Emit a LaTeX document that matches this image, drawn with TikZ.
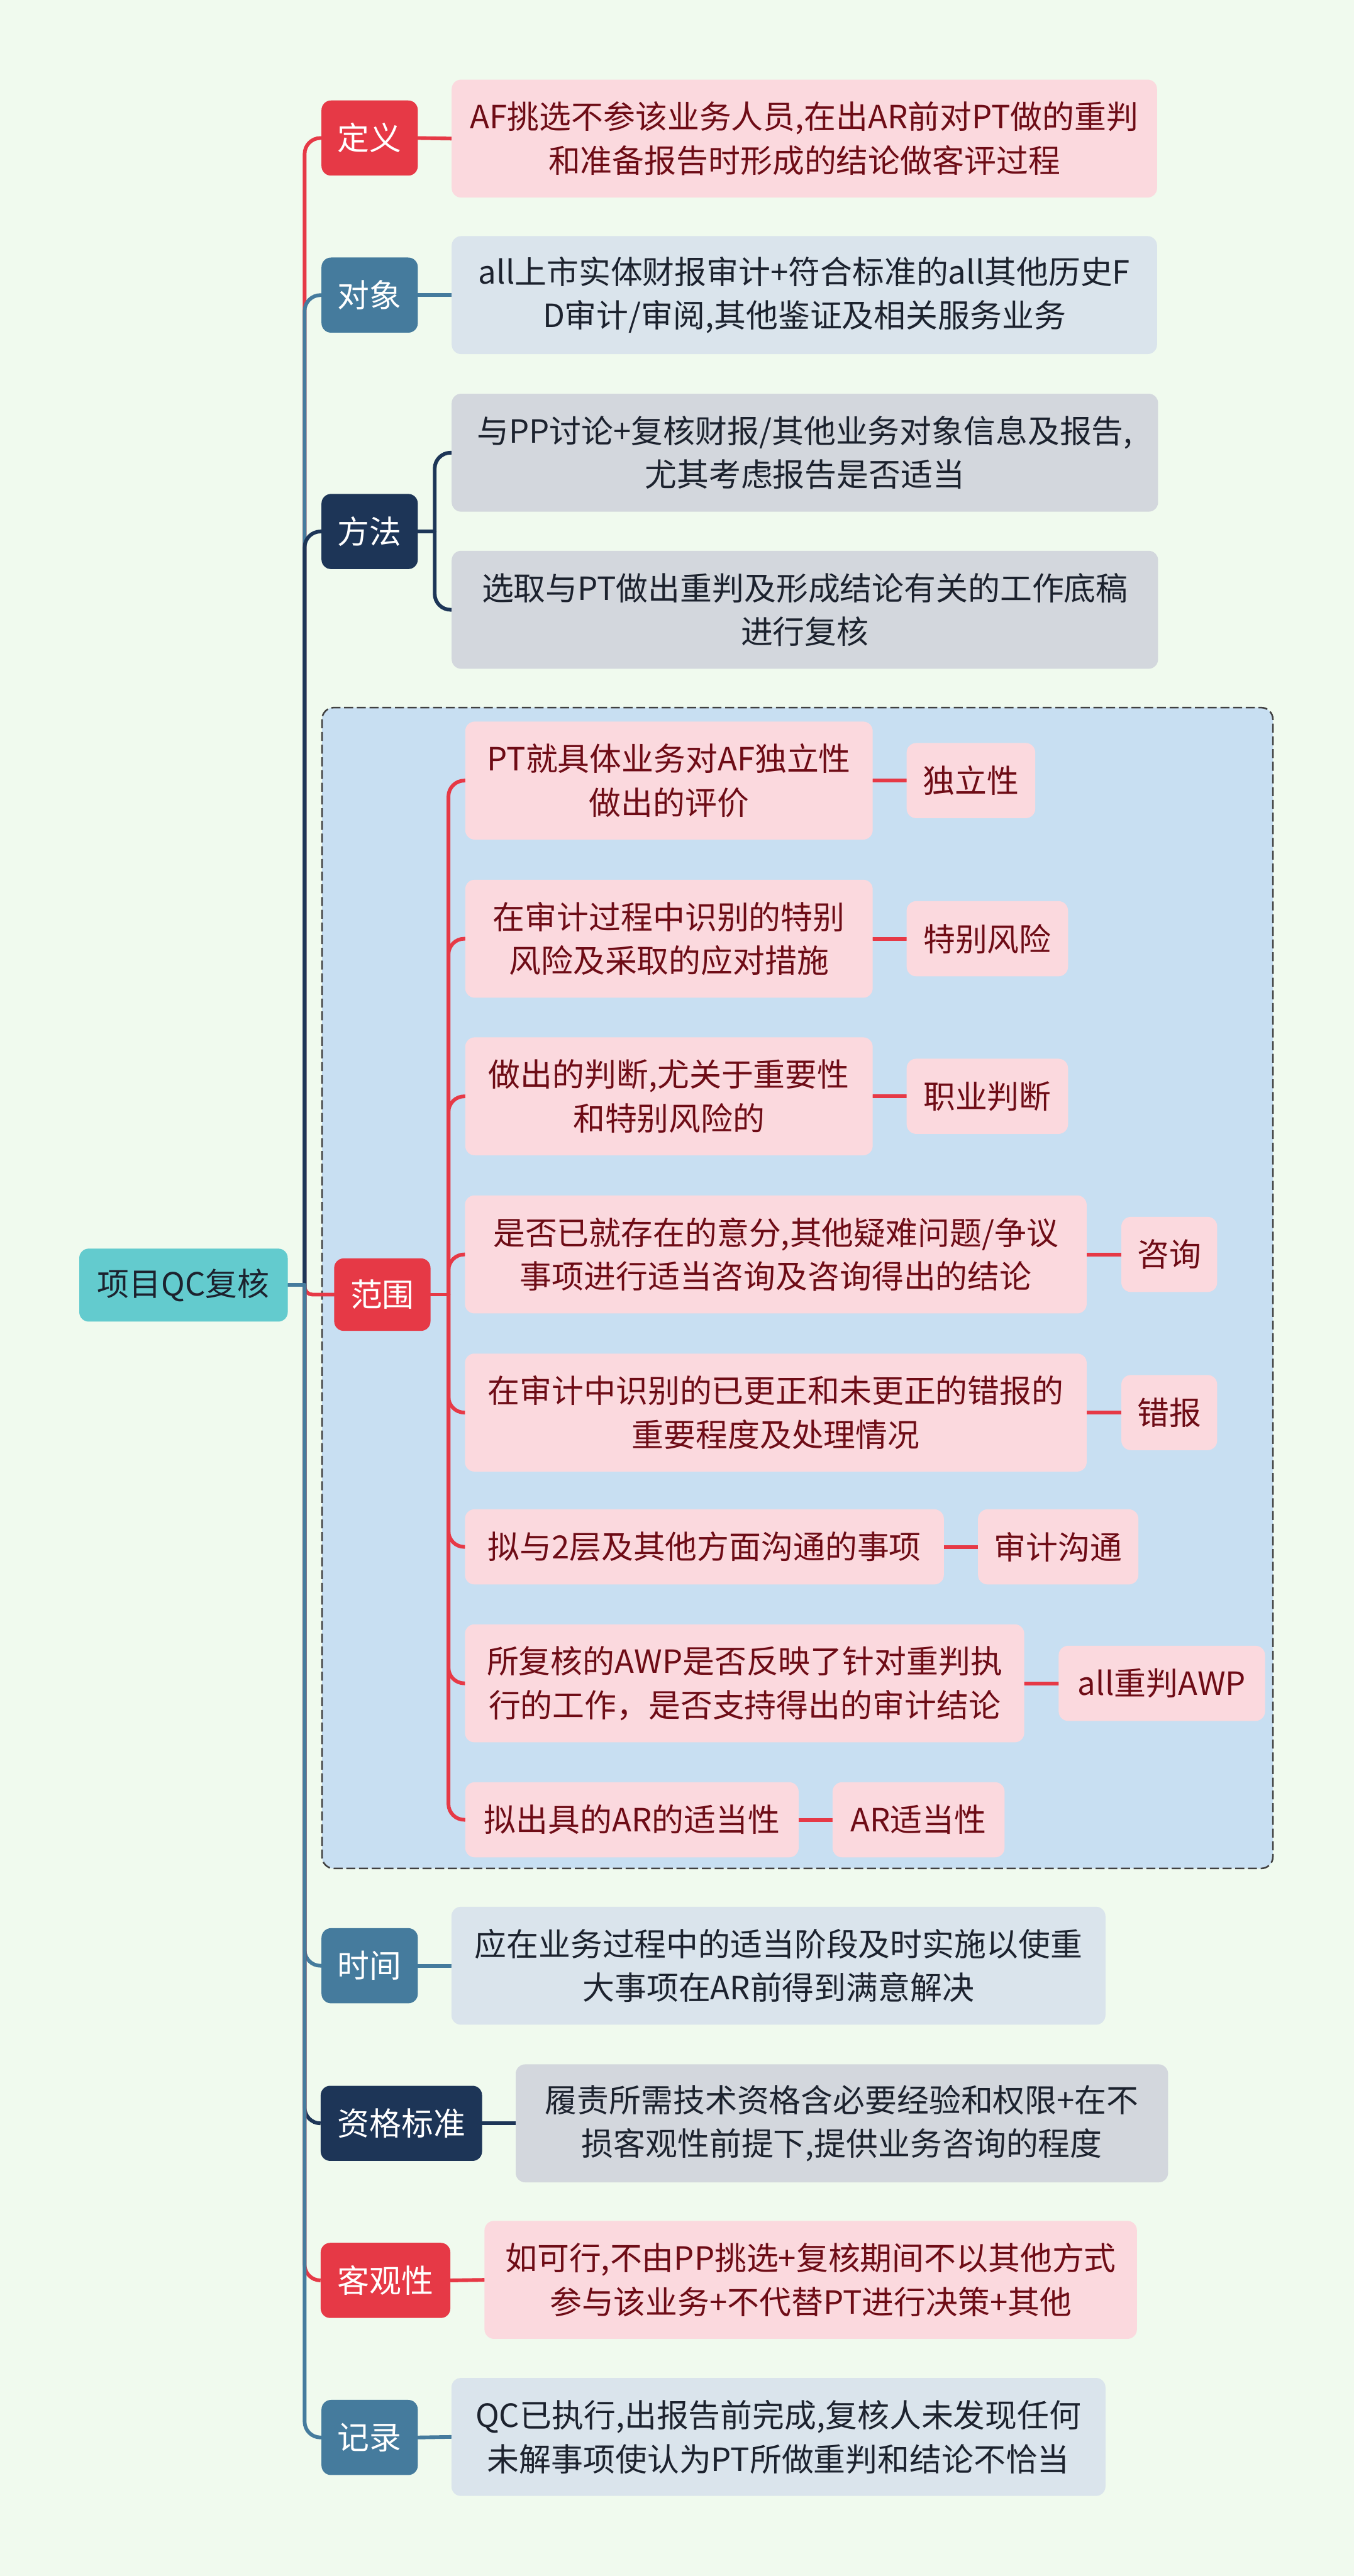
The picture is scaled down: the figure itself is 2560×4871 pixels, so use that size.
\documentclass[tikz,border=0pt]{standalone}
\usepackage{fontspec}
\newfontfamily\cjk{Noto Sans CJK SC}
\usepackage{xcolor}
\definecolor{qcbg}{RGB}{240,250,238}
\definecolor{qcred}{RGB}{230,57,70}
\definecolor{qcsteel}{RGB}{69,123,157}
\definecolor{qcnavy}{RGB}{29,53,87}
\definecolor{qcteal}{RGB}{99,203,206}
\definecolor{qcpink}{RGB}{251,217,222}
\definecolor{qcmist}{RGB}{218,228,236}
\definecolor{qcgray}{RGB}{211,215,221}
\definecolor{qcpanel}{RGB}{200,223,242}
\definecolor{qcwine}{RGB}{110,12,22}
\definecolor{qcink}{RGB}{28,34,46}
\usepackage{tikz}
\usetikzlibrary{positioning,backgrounds}

\begin{document}
\begin{tikzpicture}[x=0.01cm, y=-0.01cm,
    topicbox/.style={rectangle, rounded corners=0.18cm, inner sep=0pt,
                     minimum width=1.82cm, minimum height=1.42cm, align=center,
                     text=white, font=\cjk\fontsize{17.2pt}{23pt}\selectfont},
    leafbox/.style={rectangle, rounded corners=0.18cm, inner sep=0pt,
                    minimum height=2.23cm, align=center,
                    font=\cjk\fontsize{17.2pt}{23.5pt}\selectfont},
    tagbox/.style={rectangle, rounded corners=0.18cm, inner sep=0pt,
                   minimum height=1.42cm, align=center, fill=qcpink, text=qcwine,
                   font=\cjk\fontsize{17.2pt}{23pt}\selectfont},
    link/.style={line width=0.07cm, rounded corners=0.3cm, line cap=round}
  ]
    % Root
    \node[topicbox, fill=qcteal, text=qcink, minimum width=3.94cm, minimum height=1.38cm]
      (root) at (347,2430) {项目QC复核};

    % Main topics
    \node[topicbox, fill=qcred]   (dingyi)   at (699,261)  {定义};
    \node[topicbox, fill=qcsteel] (duixiang) at (699,558)  {对象};
    \node[topicbox, fill=qcnavy]  (fangfa)   at (699,1005) {方法};
    \node[topicbox, fill=qcred, minimum height=1.37cm] (fanwei) at (723,2448) {范围};
    \node[topicbox, fill=qcsteel] (shijian)  at (699,3717) {时间};
    \node[topicbox, fill=qcnavy, minimum width=3.05cm]  (zige)   at (759,4015) {资格标准};
    \node[topicbox, fill=qcred, minimum width=2.45cm]   (keguan) at (729,4312) {客观性};
    \node[topicbox, fill=qcsteel] (jilu)     at (699,4609) {记录};

    % Details of the plain topics
    \node[leafbox, fill=qcpink, text=qcwine, minimum width=13.33cm] (dingyiT) at (1521,262)
      {AF挑选不参该业务人员,在出AR前对PT做的重判\\和准备报告时形成的结论做客评过程};
    \node[leafbox, fill=qcmist, text=qcink, minimum width=13.33cm] (duixiangT) at (1521,558)
      {all上市实体财报审计+符合标准的all其他历史F\\D审计/审阅,其他鉴证及相关服务业务};
    \node[leafbox, fill=qcgray, text=qcink, minimum width=13.35cm] (fangfaA) at (1522,856)
      {与PP讨论+复核财报/其他业务对象信息及报告,\\尤其考虑报告是否适当};
    \node[leafbox, fill=qcgray, text=qcink, minimum width=13.35cm] (fangfaB) at (1522,1153)
      {选取与PT做出重判及形成结论有关的工作底稿\\进行复核};
    \node[leafbox, fill=qcmist, text=qcink, minimum width=12.36cm] (shijianT) at (1472,3717)
      {应在业务过程中的适当阶段及时实施以使重\\大事项在AR前得到满意解决};
    \node[leafbox, fill=qcgray, text=qcink, minimum width=12.33cm] (zigeT) at (1592,4015)
      {履责所需技术资格含必要经验和权限+在不\\损客观性前提下,提供业务咨询的程度};
    \node[leafbox, fill=qcpink, text=qcwine, minimum width=12.33cm] (keguanT) at (1533,4311)
      {如可行,不由PP挑选+复核期间不以其他方式\\参与该业务+不代替PT进行决策+其他};
    \node[leafbox, fill=qcmist, text=qcink, minimum width=12.36cm] (jiluT) at (1472,4608)
      {QC已执行,出报告前完成,复核人未发现任何\\未解事项使认为PT所做重判和结论不恰当};

    % Scope items
    \node[leafbox, fill=qcpink, text=qcwine, minimum width=7.7cm] (fw1) at (1265,1476)
      {PT就具体业务对AF独立性\\做出的评价};
    \node[leafbox, fill=qcpink, text=qcwine, minimum width=7.7cm] (fw2) at (1265,1775)
      {在审计过程中识别的特别\\风险及采取的应对措施};
    \node[leafbox, fill=qcpink, text=qcwine, minimum width=7.7cm] (fw3) at (1265,2073)
      {做出的判断,尤关于重要性\\和特别风险的};
    \node[leafbox, fill=qcpink, text=qcwine, minimum width=11.75cm] (fw4) at (1467,2372)
      {是否已就存在的意分,其他疑难问题/争议\\事项进行适当咨询及咨询得出的结论};
    \node[leafbox, fill=qcpink, text=qcwine, minimum width=11.75cm] (fw5) at (1467,2671)
      {在审计中识别的已更正和未更正的错报的\\重要程度及处理情况};
    \node[leafbox, fill=qcpink, text=qcwine, minimum width=9.05cm, minimum height=1.42cm] (fw6) at (1332,2925)
      {拟与2层及其他方面沟通的事项};
    \node[leafbox, fill=qcpink, text=qcwine, minimum width=10.57cm] (fw7) at (1408,3183)
      {所复核的AWP是否反映了针对重判执\\行的工作，是否支持得出的审计结论};
    \node[leafbox, fill=qcpink, text=qcwine, minimum width=6.3cm, minimum height=1.42cm] (fw8) at (1195,3441)
      {拟出具的AR的适当性};

    % Scope tags
    \node[tagbox, minimum width=2.43cm] (tag1) at (1836,1476) {独立性};
    \node[tagbox, minimum width=3.05cm] (tag2) at (1867,1775) {特别风险};
    \node[tagbox, minimum width=3.05cm] (tag3) at (1867,2073) {职业判断};
    \node[tagbox, minimum width=1.81cm] (tag4) at (2211,2372) {咨询};
    \node[tagbox, minimum width=1.81cm] (tag5) at (2211,2671) {错报};
    \node[tagbox, minimum width=3.03cm] (tag6) at (2001,2925) {审计沟通};
    \node[tagbox, minimum width=3.9cm]  (tag7) at (2197,3183) {all重判AWP};
    \node[tagbox, minimum width=3.25cm] (tag8) at (1737,3441) {AR适当性};

    \coordinate (hub)   at (576,2430);
    \coordinate (ffhub) at (822,1005);
    \coordinate (fwhub) at (848,2448);

    \begin{scope}[on background layer]
      \fill[qcbg] (0,0) rectangle (2560,4871);
      % Scope panel
      \draw[fill=qcpanel, draw=black!75, line width=0.03cm, rounded corners=0.22cm,
            dash pattern=on 0.17cm off 0.07cm] (609,1338) rectangle (2407,3533);

      % Trunk
      \draw[link, qcred]   (hub) |- (dingyi.west);
      \draw[link, qcsteel] (hub) |- (duixiang.west);
      \draw[link, qcnavy]  (hub) |- (fangfa.west);
      \draw[link, qcred, rounded corners=0.15cm] (hub) |- (fanwei.west);
      \draw[link, qcsteel] (hub) |- (shijian.west);
      \draw[link, qcnavy]  (hub) |- (zige.west);
      \draw[link, qcred]   (hub) |- (keguan.west);
      \draw[link, qcsteel] (hub) |- (jilu.west);
      \draw[link, qcsteel] (root.east) -- (hub);

      % Topic to detail
      \draw[link, qcred]   (dingyi.east) -- (dingyiT.west);
      \draw[link, qcsteel] (duixiang.east) -- (duixiangT.west);
      \draw[link, qcnavy]  (fangfa.east) -- (ffhub);
      \draw[link, qcnavy]  (ffhub) |- (fangfaA.west);
      \draw[link, qcnavy]  (ffhub) |- (fangfaB.west);
      \draw[link, qcsteel] (shijian.east) -- (shijianT.west);
      \draw[link, qcnavy]  (zige.east) -- (zigeT.west);
      \draw[link, qcred]   (keguan.east) -- (keguanT.west);
      \draw[link, qcsteel] (jilu.east) -- (jiluT.west);

      % Scope bracket
      \draw[link, qcred] (fanwei.east) -- (fwhub);
      \draw[link, qcred] (fwhub) |- (fw1.west);
      \draw[link, qcred] (fwhub) |- (fw2.west);
      \draw[link, qcred] (fwhub) |- (fw3.west);
      \draw[link, qcred] (fwhub) |- (fw4.west);
      \draw[link, qcred] (fwhub) |- (fw5.west);
      \draw[link, qcred] (fwhub) |- (fw6.west);
      \draw[link, qcred] (fwhub) |- (fw7.west);
      \draw[link, qcred] (fwhub) |- (fw8.west);

      % Scope item to tag
      \draw[link, qcred] (fw1.east) -- (tag1.west);
      \draw[link, qcred] (fw2.east) -- (tag2.west);
      \draw[link, qcred] (fw3.east) -- (tag3.west);
      \draw[link, qcred] (fw4.east) -- (tag4.west);
      \draw[link, qcred] (fw5.east) -- (tag5.west);
      \draw[link, qcred] (fw6.east) -- (tag6.west);
      \draw[link, qcred] (fw7.east) -- (tag7.west);
      \draw[link, qcred] (fw8.east) -- (tag8.west);
    \end{scope}
  \end{tikzpicture}
\end{document}
